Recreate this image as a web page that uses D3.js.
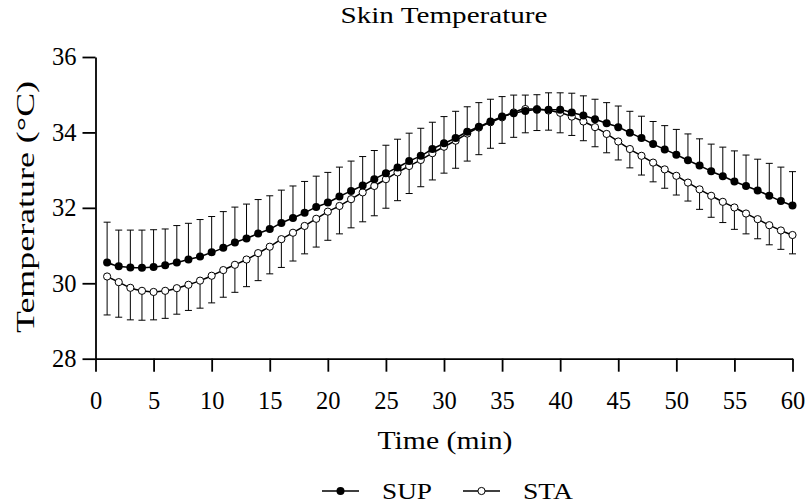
<!DOCTYPE html>
<html>
<head>
<meta charset="utf-8">
<script src="https://cdn.jsdelivr.net/npm/d3@7"></script>
<style>
  html, body { margin: 0; padding: 0; background: #fff; }
  svg { display: block; }
  text { font-family: "Liberation Serif", "Times New Roman", serif; fill: #000; }
</style>
</head>
<body>
<svg id="chart" width="807" height="504"></svg>
<script>
// ---- data ----
const minutes = d3.range(1, 61);
const supMean = [30.55,30.45,30.42,30.41,30.43,30.48,30.55,30.63,30.71,30.82,
  30.94,31.08,31.19,31.32,31.44,31.60,31.73,31.87,32.02,32.14,
  32.30,32.45,32.59,32.76,32.92,33.07,33.24,33.38,33.56,33.71,
  33.85,34.02,34.15,34.29,34.42,34.51,34.57,34.60,34.60,34.60,
  34.53,34.45,34.35,34.24,34.14,33.99,33.85,33.69,33.55,33.41,
  33.26,33.12,32.97,32.84,32.70,32.58,32.46,32.32,32.18,32.06];
const supSD = [1.07,0.96,0.99,1.00,0.99,0.96,0.98,0.96,0.98,0.95,
  0.96,0.94,0.91,0.90,0.88,0.87,0.85,0.83,0.82,0.80,
  0.78,0.79,0.77,0.76,0.74,0.75,0.74,0.73,0.71,0.71,
  0.71,0.66,0.64,0.59,0.53,0.48,0.42,0.40,0.45,0.45,
  0.51,0.52,0.53,0.55,0.56,0.57,0.58,0.60,0.63,0.67,
  0.70,0.71,0.72,0.77,0.81,0.82,0.83,0.86,0.90,0.90];
const staMean = [30.18,30.03,29.88,29.80,29.77,29.80,29.87,29.96,30.07,30.20,
  30.35,30.49,30.63,30.80,30.97,31.17,31.34,31.52,31.71,31.90,
  32.05,32.23,32.41,32.58,32.76,32.94,33.11,33.27,33.45,33.62,
  33.78,33.97,34.13,34.27,34.40,34.53,34.62,34.62,34.58,34.52,
  34.42,34.29,34.14,33.96,33.76,33.56,33.38,33.20,33.02,32.85,
  32.67,32.49,32.32,32.16,32.01,31.85,31.70,31.54,31.40,31.28];
const staSD = [1.02,0.93,0.85,0.78,0.74,0.73,0.69,0.68,0.73,0.72,
  0.72,0.73,0.72,0.73,0.72,0.75,0.75,0.74,0.75,0.76,
  0.74,0.76,0.78,0.79,0.77,0.75,0.73,0.71,0.71,0.70,
  0.73,0.73,0.72,0.69,0.69,0.66,0.63,0.57,0.52,0.53,
  0.50,0.51,0.52,0.50,0.49,0.50,0.51,0.51,0.50,0.51,
  0.49,0.53,0.57,0.55,0.58,0.54,0.52,0.52,0.50,0.50];
const xTicks = [0,5,10,15,20,25,30,35,40,45,50,55,60];
const yTicks = [28,30,32,34,36];
const seriesNames = ["SUP", "STA"];
const titleText = "Skin Temperature";
const xLabel = "Time (min)";
const yLabel = "Temperature (°C)";

// ---- build ----
const svg = d3.select("#chart");
const x = d3.scaleLinear().domain([0, 60]).range([95.5, 792.5]);
const y = d3.scaleLinear().domain([28, 36]).range([358.7, 57]);

const sup = minutes.map((m, i) => ({m, v: supMean[i], e: supSD[i]}));
const sta = minutes.map((m, i) => ({m, v: staMean[i], e: staSD[i]}));

// axes
const xAxis = svg.append("g").attr("transform", `translate(0,${y(28)})`)
  .call(d3.axisBottom(x).tickValues(xTicks).tickSize(13).tickSizeOuter(0).tickPadding(20));
const yAxis = svg.append("g").attr("transform", `translate(${x(0)},0)`)
  .call(d3.axisLeft(y).tickValues(yTicks).tickSize(13).tickSizeOuter(0).tickPadding(6));
[xAxis, yAxis].forEach(g => {
  g.select(".domain").attr("stroke", "#000").attr("stroke-width", 1.8);
  g.selectAll(".tick line").attr("stroke", "#000").attr("stroke-width", 1.8);
  g.selectAll(".tick text").attr("font-size", 24.5).attr("fill", "#000");
});

// error bars (one-sided: SUP upward, STA downward)
const cap = 3.5;
function errBars(data, dir) {
  const g = svg.append("g").attr("stroke", "#000").attr("stroke-width", 1);
  data.forEach(d => {
    const y0 = y(d.v), y1 = y(d.v + dir * d.e);
    g.append("line").attr("x1", x(d.m)).attr("x2", x(d.m)).attr("y1", y0).attr("y2", y1);
    g.append("line").attr("x1", x(d.m) - cap).attr("x2", x(d.m) + cap).attr("y1", y1).attr("y2", y1);
  });
}
errBars(sup, 1);
errBars(sta, -1);

// lines
const line = d3.line().x(d => x(d.m)).y(d => y(d.v)).curve(d3.curveMonotoneX);
svg.append("path").datum(sta).attr("d", line).attr("fill", "none").attr("stroke", "#000").attr("stroke-width", 1.5);
svg.append("path").datum(sup).attr("d", line).attr("fill", "none").attr("stroke", "#000").attr("stroke-width", 1.5);

// markers
svg.append("g").selectAll("circle").data(sta).join("circle")
  .attr("cx", d => x(d.m)).attr("cy", d => y(d.v)).attr("r", 3.6)
  .attr("fill", "#fff").attr("stroke", "#000").attr("stroke-width", 1);
svg.append("g").selectAll("circle").data(sup).join("circle")
  .attr("cx", d => x(d.m)).attr("cy", d => y(d.v)).attr("r", 4)
  .attr("fill", "#000");

// texts
svg.append("text").attr("x", 444).attr("y", 23).attr("text-anchor", "middle")
  .attr("font-size", 24).attr("textLength", 207).attr("lengthAdjust", "spacingAndGlyphs").text(titleText);
svg.append("text").attr("x", 445).attr("y", 449).attr("text-anchor", "middle")
  .attr("font-size", 25).attr("textLength", 135).attr("lengthAdjust", "spacingAndGlyphs").text(xLabel);
svg.append("text").attr("transform", `translate(34,207) rotate(-90)`).attr("text-anchor", "middle")
  .attr("font-size", 26).attr("textLength", 252).attr("lengthAdjust", "spacingAndGlyphs").text(yLabel);

// legend
const leg = svg.append("g");
const legItems = [
  {name: seriesNames[0], x0: 322, filled: true, tx: 382},
  {name: seriesNames[1], x0: 463, filled: false, tx: 523}
];
legItems.forEach(it => {
  leg.append("line").attr("x1", it.x0).attr("x2", it.x0 + 37).attr("y1", 491).attr("y2", 491)
    .attr("stroke", "#000").attr("stroke-width", 1.5);
  leg.append("circle").attr("cx", it.x0 + 18.5).attr("cy", 491).attr("r", it.filled ? 4 : 3.6)
    .attr("fill", it.filled ? "#000" : "#fff").attr("stroke", "#000").attr("stroke-width", it.filled ? 0 : 1);
  leg.append("text").attr("x", it.tx).attr("y", 499).attr("font-size", 24)
    .attr("textLength", 50).attr("lengthAdjust", "spacingAndGlyphs").text(it.name);
});
</script>
</body>
</html>
